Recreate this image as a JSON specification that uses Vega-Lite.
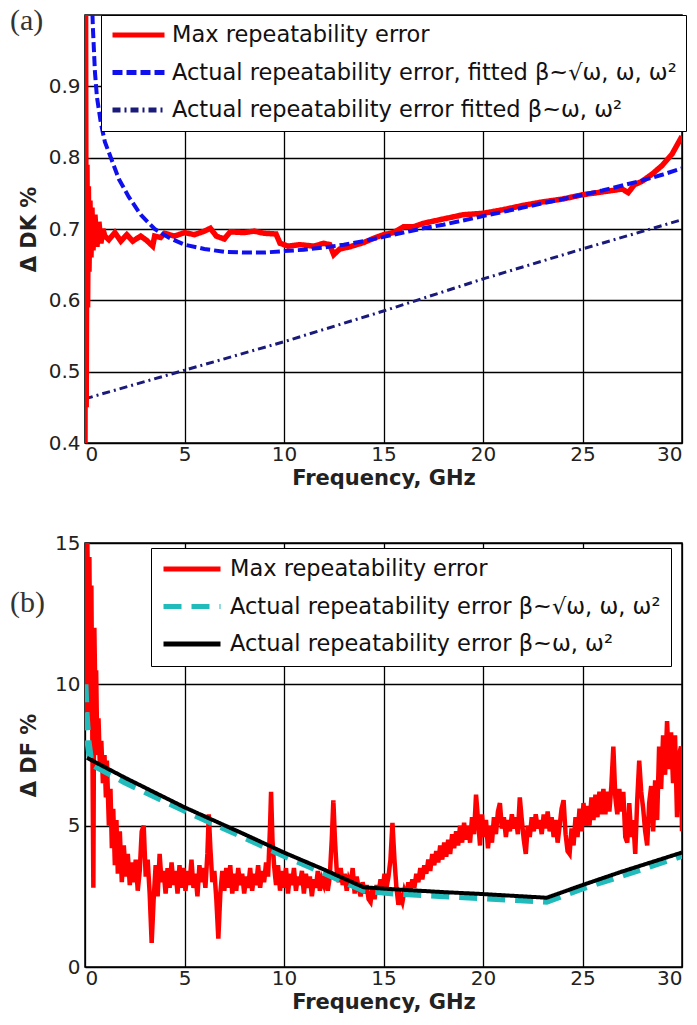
{
 "$schema": "https://vega.github.io/schema/vega-lite/v6.json",
 "background": "white",
 "padding": {"left": 9, "top": 5, "right": 5, "bottom": 5},
 "spacing": 43,
 "config": {
  "font": "DejaVu Sans",
  "view": {"stroke": "black", "strokeWidth": 1.5},
  "axis": {"grid": true, "gridColor": "black", "gridOpacity": 1, "gridWidth": 1.3, "domain": false, "ticks": false, "labelFont": "DejaVu Sans", "labelFontSize": 20, "labelColor": "#222", "titleFont": "DejaVu Sans", "titleFontSize": 21, "titleFontWeight": "bold", "titleColor": "#222"},
  "legend": {"orient": "none", "symbolType": "stroke", "symbolStrokeWidth": 5, "labelFont": "DejaVu Sans", "labelColor": "#111", "labelLimit": 0, "strokeColor": "black", "fillColor": "white", "clipHeight": 22}
 },
 "resolve": {"scale": {"color": "independent", "strokeDash": "independent"}, "legend": {"color": "independent", "strokeDash": "independent"}},
 "vconcat": [
  {
   "width": 597, "height": 428,
   "layer": [
    {
     "data": {"values": [
      {"s":"r","f":0,"v":0.40},{"s":"r","f":0.03,"v":1.0},{"s":"r","f":0.06,"v":0.45},{"s":"r","f":0.1,"v":0.79},{"s":"r","f":0.13,"v":0.59},{"s":"r","f":0.17,"v":0.76},{"s":"r","f":0.2,"v":0.64},{"s":"r","f":0.25,"v":0.74},{"s":"r","f":0.3,"v":0.66},{"s":"r","f":0.35,"v":0.73},{"s":"r","f":0.4,"v":0.67},{"s":"r","f":0.5,"v":0.72},{"s":"r","f":0.6,"v":0.675},{"s":"r","f":0.7,"v":0.71},{"s":"r","f":0.8,"v":0.68},{"s":"r","f":0.9,"v":0.70},{"s":"r","f":1.0,"v":0.69},{"s":"r","f":1.2,"v":0.685},{"s":"r","f":1.5,"v":0.695},{"s":"r","f":1.8,"v":0.683},{"s":"r","f":2.1,"v":0.692},{"s":"r","f":2.4,"v":0.683},{"s":"r","f":2.8,"v":0.69},{"s":"r","f":3.1,"v":0.684},{"s":"r","f":3.4,"v":0.676},{"s":"r","f":3.5,"v":0.69},{"s":"r","f":3.8,"v":0.688},{"s":"r","f":4.0,"v":0.694},{"s":"r","f":4.5,"v":0.69},{"s":"r","f":5.0,"v":0.695},{"s":"r","f":5.5,"v":0.692},{"s":"r","f":6.0,"v":0.697},{"s":"r","f":6.3,"v":0.701},{"s":"r","f":6.6,"v":0.69},{"s":"r","f":7.0,"v":0.686},{"s":"r","f":7.3,"v":0.696},{"s":"r","f":8.0,"v":0.695},{"s":"r","f":8.5,"v":0.697},{"s":"r","f":9.0,"v":0.694},{"s":"r","f":9.6,"v":0.693},{"s":"r","f":9.8,"v":0.68},{"s":"r","f":10.2,"v":0.676},{"s":"r","f":10.8,"v":0.678},{"s":"r","f":11.5,"v":0.676},{"s":"r","f":12.0,"v":0.68},{"s":"r","f":12.3,"v":0.678},{"s":"r","f":12.5,"v":0.664},{"s":"r","f":12.8,"v":0.672},{"s":"r","f":13.3,"v":0.675},{"s":"r","f":14.0,"v":0.681},{"s":"r","f":14.6,"v":0.688},{"s":"r","f":15.0,"v":0.692},{"s":"r","f":15.5,"v":0.695},{"s":"r","f":16.0,"v":0.703},{"s":"r","f":16.5,"v":0.703},{"s":"r","f":17.0,"v":0.708},{"s":"r","f":18.0,"v":0.714},{"s":"r","f":19.0,"v":0.72},{"s":"r","f":20.0,"v":0.722},{"s":"r","f":21.0,"v":0.727},{"s":"r","f":22.0,"v":0.733},{"s":"r","f":23.0,"v":0.738},{"s":"r","f":24.0,"v":0.742},{"s":"r","f":25.0,"v":0.748},{"s":"r","f":26.0,"v":0.752},{"s":"r","f":27.0,"v":0.756},{"s":"r","f":27.3,"v":0.751},{"s":"r","f":27.6,"v":0.762},{"s":"r","f":28.0,"v":0.767},{"s":"r","f":28.5,"v":0.777},{"s":"r","f":29.0,"v":0.789},{"s":"r","f":29.5,"v":0.805},{"s":"r","f":29.8,"v":0.82},{"s":"r","f":30.0,"v":0.83},
      {"s":"b","f":0.3,"v":1.06},{"s":"b","f":0.4,"v":0.98},{"s":"b","f":0.5,"v":0.92},{"s":"b","f":0.6,"v":0.885},{"s":"b","f":0.8,"v":0.848},{"s":"b","f":1.0,"v":0.822},{"s":"b","f":1.3,"v":0.80},{"s":"b","f":1.7,"v":0.77},{"s":"b","f":2.2,"v":0.745},{"s":"b","f":2.8,"v":0.72},{"s":"b","f":3.5,"v":0.70},{"s":"b","f":4.2,"v":0.688},{"s":"b","f":5.0,"v":0.678},{"s":"b","f":6.0,"v":0.672},{"s":"b","f":7.0,"v":0.668},{"s":"b","f":8.0,"v":0.667},{"s":"b","f":9.0,"v":0.667},{"s":"b","f":10.0,"v":0.669},{"s":"b","f":11.0,"v":0.671},{"s":"b","f":12.0,"v":0.674},{"s":"b","f":13.0,"v":0.678},{"s":"b","f":14.0,"v":0.683},{"s":"b","f":15.0,"v":0.689},{"s":"b","f":16.0,"v":0.695},{"s":"b","f":17.0,"v":0.701},{"s":"b","f":18.0,"v":0.706},{"s":"b","f":19.0,"v":0.712},{"s":"b","f":20.0,"v":0.718},{"s":"b","f":21.0,"v":0.724},{"s":"b","f":22.0,"v":0.730},{"s":"b","f":23.0,"v":0.736},{"s":"b","f":24.0,"v":0.742},{"s":"b","f":25.0,"v":0.748},{"s":"b","f":26.0,"v":0.754},{"s":"b","f":27.0,"v":0.761},{"s":"b","f":28.0,"v":0.768},{"s":"b","f":29.0,"v":0.776},{"s":"b","f":30.0,"v":0.785},
      {"s":"d","f":0,"v":0.462},{"s":"d","f":5,"v":0.502},{"s":"d","f":10,"v":0.542},{"s":"d","f":15,"v":0.585},{"s":"d","f":20,"v":0.630},{"s":"d","f":25,"v":0.672},{"s":"d","f":30,"v":0.713}
     ]},
     "encoding": {
      "x": {"field": "f", "type": "quantitative", "scale": {"domain": [0, 30], "nice": false}, "axis": {"values": [0, 5, 10, 15, 20, 25, 30], "title": "Frequency, GHz", "labelPadding": 1, "titlePadding": 3}},
      "y": {"field": "v", "type": "quantitative", "scale": {"domain": [0.4, 1.0], "nice": false, "zero": false}, "axis": {"values": [0.4, 0.5, 0.6, 0.7, 0.8, 0.9], "format": ".1f", "title": "Δ DK %", "labelPadding": 5, "titlePadding": 8, "minExtent": 38, "maxExtent": 38}},
      "color": {"field": "s", "type": "nominal", "scale": {"domain": ["r", "b", "d"], "range": ["#ff0000", "#1010ee", "#1a1a7a"]}, "legend": {"title": null, "legendX": 16, "legendY": 0, "padding": 9, "rowPadding": 14.5, "symbolSize": 2704, "labelOffset": 5, "labelFontSize": 22.5, "labelExpr": "datum.label == 'r' ? 'Max repeatability error' : datum.label == 'b' ? 'Actual repeatability error, fitted β~√ω, ω, ω²' : 'Actual repeatability error  fitted β~ω, ω²'"}},
      "strokeDash": {"field": "s", "type": "nominal", "scale": {"domain": ["r", "b", "d"], "range": [[1, 0], [10, 4], [8, 4, 2, 4]]}, "legend": {"title": null, "legendX": 16, "legendY": 0, "padding": 9, "rowPadding": 14.5, "symbolSize": 2704, "labelOffset": 5, "labelFontSize": 22.5, "labelExpr": "datum.label == 'r' ? 'Max repeatability error' : datum.label == 'b' ? 'Actual repeatability error, fitted β~√ω, ω, ω²' : 'Actual repeatability error  fitted β~ω, ω²'"}}
     },
     "layer": [
      {"transform": [{"filter": "datum.s == 'd'"}], "mark": {"type": "line", "strokeWidth": 3, "clip": true}},
      {"transform": [{"filter": "datum.s == 'r'"}], "mark": {"type": "line", "strokeWidth": 5.5, "clip": true}},
      {"transform": [{"filter": "datum.s == 'b'"}], "mark": {"type": "line", "strokeWidth": 4, "clip": true}}
     ]
    },
    {
     "data": {"values": [{"label": "(a)"}]},
     "mark": {"type": "text", "font": "Liberation Serif", "fontSize": 30, "align": "left", "baseline": "alphabetic", "color": "#333", "clip": false},
     "encoding": {"x": {"datum": -3.77, "type": "quantitative"}, "y": {"datum": 0.979, "type": "quantitative"}, "text": {"field": "label", "type": "nominal"}}
    }
   ]
  },
  {
   "width": 597, "height": 424,
   "layer": [
    {
     "data": {"values": [
      {"s":"r","f":0.0,"v":13.0},{"s":"r","f":0.02,"v":14.8},{"s":"r","f":0.08,"v":9.0},{"s":"r","f":0.12,"v":15.0},{"s":"r","f":0.18,"v":11.0},{"s":"r","f":0.22,"v":14.5},{"s":"r","f":0.28,"v":8.5},{"s":"r","f":0.32,"v":13.5},{"s":"r","f":0.38,"v":7.0},{"s":"r","f":0.42,"v":2.8},{"s":"r","f":0.47,"v":12.0},{"s":"r","f":0.52,"v":9.5},{"s":"r","f":0.56,"v":10.5},{"s":"r","f":0.62,"v":7.5},{"s":"r","f":0.68,"v":8.8},{"s":"r","f":0.75,"v":7.0},{"s":"r","f":0.82,"v":8.0},{"s":"r","f":0.9,"v":6.5},{"s":"r","f":0.98,"v":7.5},{"s":"r","f":1.05,"v":6.0},{"s":"r","f":1.1,"v":7.3},{"s":"r","f":1.2,"v":5.0},{"s":"r","f":1.28,"v":6.3},{"s":"r","f":1.35,"v":4.2},{"s":"r","f":1.42,"v":5.6},{"s":"r","f":1.5,"v":3.6},{"s":"r","f":1.58,"v":5.2},{"s":"r","f":1.65,"v":3.3},{"s":"r","f":1.75,"v":4.8},{"s":"r","f":1.85,"v":3.0},{"s":"r","f":1.95,"v":4.3},{"s":"r","f":2.05,"v":3.2},{"s":"r","f":2.15,"v":4.0},{"s":"r","f":2.25,"v":2.9},{"s":"r","f":2.35,"v":3.7},{"s":"r","f":2.45,"v":3.0},{"s":"r","f":2.55,"v":3.8},{"s":"r","f":2.65,"v":2.7},{"s":"r","f":2.75,"v":3.4},{"s":"r","f":2.85,"v":4.8},{"s":"r","f":2.95,"v":5.0},{"s":"r","f":3.05,"v":3.2},{"s":"r","f":3.15,"v":3.8},{"s":"r","f":3.25,"v":2.6},{"s":"r","f":3.35,"v":0.85},{"s":"r","f":3.45,"v":2.4},{"s":"r","f":3.55,"v":3.6},{"s":"r","f":3.65,"v":2.5},{"s":"r","f":3.75,"v":4.0},{"s":"r","f":3.85,"v":3.0},{"s":"r","f":3.95,"v":3.4},{"s":"r","f":4.05,"v":2.6},{"s":"r","f":4.15,"v":3.5},{"s":"r","f":4.25,"v":2.8},{"s":"r","f":4.35,"v":3.7},{"s":"r","f":4.45,"v":2.9},{"s":"r","f":4.55,"v":3.4},{"s":"r","f":4.65,"v":2.6},{"s":"r","f":4.75,"v":3.6},{"s":"r","f":4.85,"v":2.8},{"s":"r","f":4.95,"v":3.5},{"s":"r","f":5.05,"v":2.7},{"s":"r","f":5.15,"v":3.4},{"s":"r","f":5.25,"v":2.9},{"s":"r","f":5.35,"v":3.8},{"s":"r","f":5.45,"v":2.8},{"s":"r","f":5.55,"v":3.3},{"s":"r","f":5.65,"v":2.5},{"s":"r","f":5.75,"v":3.6},{"s":"r","f":5.85,"v":3.0},{"s":"r","f":5.95,"v":3.5},{"s":"r","f":6.05,"v":2.8},{"s":"r","f":6.15,"v":4.0},{"s":"r","f":6.22,"v":5.4},{"s":"r","f":6.3,"v":4.2},{"s":"r","f":6.4,"v":3.0},{"s":"r","f":6.5,"v":3.4},{"s":"r","f":6.6,"v":2.4},{"s":"r","f":6.7,"v":1.0},{"s":"r","f":6.8,"v":2.6},{"s":"r","f":6.9,"v":3.4},{"s":"r","f":7.0,"v":2.7},{"s":"r","f":7.1,"v":3.5},{"s":"r","f":7.2,"v":2.8},{"s":"r","f":7.3,"v":3.6},{"s":"r","f":7.4,"v":2.6},{"s":"r","f":7.5,"v":3.3},{"s":"r","f":7.6,"v":2.7},{"s":"r","f":7.7,"v":3.5},{"s":"r","f":7.8,"v":2.9},{"s":"r","f":7.9,"v":3.3},{"s":"r","f":8.0,"v":2.6},{"s":"r","f":8.1,"v":3.2},{"s":"r","f":8.2,"v":2.8},{"s":"r","f":8.3,"v":3.5},{"s":"r","f":8.4,"v":2.7},{"s":"r","f":8.5,"v":3.3},{"s":"r","f":8.6,"v":2.9},{"s":"r","f":8.7,"v":3.6},{"s":"r","f":8.8,"v":2.8},{"s":"r","f":8.9,"v":3.4},{"s":"r","f":9.0,"v":3.0},{"s":"r","f":9.1,"v":3.7},{"s":"r","f":9.2,"v":3.2},{"s":"r","f":9.3,"v":5.0},{"s":"r","f":9.35,"v":6.2},{"s":"r","f":9.42,"v":4.5},{"s":"r","f":9.5,"v":3.6},{"s":"r","f":9.6,"v":2.9},{"s":"r","f":9.7,"v":3.6},{"s":"r","f":9.8,"v":2.7},{"s":"r","f":9.9,"v":3.4},{"s":"r","f":10.0,"v":2.8},{"s":"r","f":10.1,"v":3.5},{"s":"r","f":10.2,"v":2.6},{"s":"r","f":10.3,"v":3.3},{"s":"r","f":10.4,"v":2.9},{"s":"r","f":10.5,"v":3.5},{"s":"r","f":10.6,"v":2.7},{"s":"r","f":10.7,"v":3.2},{"s":"r","f":10.8,"v":2.9},{"s":"r","f":10.9,"v":3.4},{"s":"r","f":11.0,"v":2.6},{"s":"r","f":11.1,"v":3.3},{"s":"r","f":11.2,"v":2.8},{"s":"r","f":11.3,"v":3.2},{"s":"r","f":11.4,"v":2.5},{"s":"r","f":11.5,"v":3.1},{"s":"r","f":11.6,"v":2.8},{"s":"r","f":11.7,"v":3.4},{"s":"r","f":11.8,"v":2.7},{"s":"r","f":11.9,"v":3.1},{"s":"r","f":12.0,"v":2.9},{"s":"r","f":12.1,"v":3.3},{"s":"r","f":12.2,"v":2.7},{"s":"r","f":12.3,"v":3.2},{"s":"r","f":12.4,"v":4.5},{"s":"r","f":12.48,"v":5.9},{"s":"r","f":12.56,"v":4.5},{"s":"r","f":12.65,"v":3.4},{"s":"r","f":12.75,"v":3.0},{"s":"r","f":12.85,"v":3.5},{"s":"r","f":12.95,"v":2.9},{"s":"r","f":13.05,"v":3.3},{"s":"r","f":13.15,"v":2.7},{"s":"r","f":13.25,"v":3.1},{"s":"r","f":13.35,"v":2.9},{"s":"r","f":13.45,"v":3.5},{"s":"r","f":13.55,"v":2.6},{"s":"r","f":13.65,"v":3.2},{"s":"r","f":13.75,"v":2.8},{"s":"r","f":13.85,"v":2.5},{"s":"r","f":13.95,"v":3.0},{"s":"r","f":14.05,"v":2.6},{"s":"r","f":14.15,"v":2.9},{"s":"r","f":14.25,"v":2.4},{"s":"r","f":14.35,"v":2.3},{"s":"r","f":14.45,"v":2.8},{"s":"r","f":14.55,"v":2.4},{"s":"r","f":14.65,"v":2.9},{"s":"r","f":14.75,"v":2.6},{"s":"r","f":14.85,"v":3.1},{"s":"r","f":14.95,"v":2.7},{"s":"r","f":15.05,"v":3.3},{"s":"r","f":15.15,"v":2.8},{"s":"r","f":15.25,"v":3.2},{"s":"r","f":15.35,"v":3.8},{"s":"r","f":15.45,"v":5.1},{"s":"r","f":15.55,"v":3.8},{"s":"r","f":15.65,"v":2.8},{"s":"r","f":15.75,"v":2.2},{"s":"r","f":15.85,"v":2.5},{"s":"r","f":15.95,"v":2.3},{"s":"r","f":16.05,"v":2.7},{"s":"r","f":16.15,"v":2.5},{"s":"r","f":16.25,"v":3.0},{"s":"r","f":16.35,"v":2.7},{"s":"r","f":16.45,"v":3.1},{"s":"r","f":16.55,"v":2.8},{"s":"r","f":16.65,"v":3.3},{"s":"r","f":16.75,"v":3.0},{"s":"r","f":16.85,"v":3.5},{"s":"r","f":16.95,"v":3.1},{"s":"r","f":17.05,"v":3.6},{"s":"r","f":17.15,"v":3.3},{"s":"r","f":17.25,"v":3.8},{"s":"r","f":17.35,"v":3.4},{"s":"r","f":17.45,"v":4.0},{"s":"r","f":17.55,"v":3.6},{"s":"r","f":17.65,"v":4.1},{"s":"r","f":17.75,"v":3.7},{"s":"r","f":17.85,"v":4.3},{"s":"r","f":17.95,"v":3.8},{"s":"r","f":18.05,"v":4.4},{"s":"r","f":18.15,"v":3.9},{"s":"r","f":18.25,"v":4.5},{"s":"r","f":18.35,"v":4.0},{"s":"r","f":18.45,"v":4.7},{"s":"r","f":18.55,"v":4.2},{"s":"r","f":18.65,"v":4.8},{"s":"r","f":18.75,"v":4.3},{"s":"r","f":18.85,"v":5.0},{"s":"r","f":18.95,"v":4.4},{"s":"r","f":19.05,"v":5.1},{"s":"r","f":19.15,"v":4.5},{"s":"r","f":19.25,"v":5.0},{"s":"r","f":19.35,"v":4.4},{"s":"r","f":19.45,"v":5.3},{"s":"r","f":19.55,"v":4.7},{"s":"r","f":19.65,"v":6.1},{"s":"r","f":19.75,"v":5.2},{"s":"r","f":19.85,"v":4.3},{"s":"r","f":19.95,"v":5.4},{"s":"r","f":20.05,"v":4.6},{"s":"r","f":20.15,"v":5.2},{"s":"r","f":20.25,"v":4.2},{"s":"r","f":20.35,"v":5.0},{"s":"r","f":20.45,"v":4.4},{"s":"r","f":20.55,"v":5.3},{"s":"r","f":20.65,"v":4.7},{"s":"r","f":20.75,"v":5.5},{"s":"r","f":20.85,"v":5.8},{"s":"r","f":20.95,"v":4.9},{"s":"r","f":21.05,"v":5.3},{"s":"r","f":21.15,"v":4.6},{"s":"r","f":21.25,"v":5.2},{"s":"r","f":21.35,"v":4.8},{"s":"r","f":21.45,"v":5.4},{"s":"r","f":21.55,"v":4.9},{"s":"r","f":21.65,"v":5.3},{"s":"r","f":21.75,"v":4.7},{"s":"r","f":21.85,"v":6.0},{"s":"r","f":21.95,"v":5.2},{"s":"r","f":22.05,"v":4.5},{"s":"r","f":22.15,"v":4.0},{"s":"r","f":22.25,"v":5.0},{"s":"r","f":22.35,"v":4.6},{"s":"r","f":22.45,"v":5.3},{"s":"r","f":22.55,"v":4.8},{"s":"r","f":22.65,"v":5.4},{"s":"r","f":22.75,"v":4.9},{"s":"r","f":22.85,"v":5.2},{"s":"r","f":22.95,"v":4.7},{"s":"r","f":23.05,"v":5.4},{"s":"r","f":23.15,"v":4.9},{"s":"r","f":23.25,"v":5.5},{"s":"r","f":23.35,"v":4.8},{"s":"r","f":23.45,"v":5.3},{"s":"r","f":23.55,"v":4.6},{"s":"r","f":23.65,"v":5.2},{"s":"r","f":23.75,"v":4.4},{"s":"r","f":23.85,"v":5.0},{"s":"r","f":23.95,"v":5.6},{"s":"r","f":24.05,"v":5.9},{"s":"r","f":24.15,"v":4.7},{"s":"r","f":24.25,"v":4.1},{"s":"r","f":24.35,"v":4.0},{"s":"r","f":24.45,"v":4.9},{"s":"r","f":24.55,"v":4.3},{"s":"r","f":24.65,"v":5.3},{"s":"r","f":24.75,"v":4.6},{"s":"r","f":24.85,"v":5.6},{"s":"r","f":24.95,"v":4.8},{"s":"r","f":25.05,"v":5.8},{"s":"r","f":25.15,"v":5.0},{"s":"r","f":25.25,"v":5.7},{"s":"r","f":25.35,"v":5.0},{"s":"r","f":25.45,"v":6.0},{"s":"r","f":25.55,"v":5.2},{"s":"r","f":25.65,"v":6.1},{"s":"r","f":25.75,"v":5.3},{"s":"r","f":25.85,"v":6.2},{"s":"r","f":25.95,"v":5.4},{"s":"r","f":26.05,"v":6.3},{"s":"r","f":26.15,"v":5.4},{"s":"r","f":26.25,"v":6.2},{"s":"r","f":26.35,"v":5.5},{"s":"r","f":26.45,"v":6.4},{"s":"r","f":26.55,"v":7.8},{"s":"r","f":26.65,"v":6.0},{"s":"r","f":26.75,"v":5.4},{"s":"r","f":26.85,"v":6.3},{"s":"r","f":26.95,"v":5.5},{"s":"r","f":27.05,"v":6.2},{"s":"r","f":27.15,"v":4.6},{"s":"r","f":27.25,"v":4.4},{"s":"r","f":27.35,"v":5.8},{"s":"r","f":27.45,"v":4.6},{"s":"r","f":27.55,"v":5.2},{"s":"r","f":27.65,"v":4.0},{"s":"r","f":27.75,"v":5.9},{"s":"r","f":27.85,"v":7.3},{"s":"r","f":27.95,"v":6.2},{"s":"r","f":28.05,"v":5.6},{"s":"r","f":28.15,"v":4.8},{"s":"r","f":28.25,"v":4.3},{"s":"r","f":28.35,"v":5.8},{"s":"r","f":28.45,"v":6.4},{"s":"r","f":28.55,"v":4.8},{"s":"r","f":28.65,"v":6.6},{"s":"r","f":28.75,"v":5.2},{"s":"r","f":28.85,"v":7.8},{"s":"r","f":28.95,"v":6.3},{"s":"r","f":29.05,"v":8.2},{"s":"r","f":29.15,"v":6.8},{"s":"r","f":29.25,"v":8.7},{"s":"r","f":29.35,"v":7.0},{"s":"r","f":29.45,"v":8.3},{"s":"r","f":29.55,"v":6.5},{"s":"r","f":29.65,"v":8.2},{"s":"r","f":29.75,"v":5.3},{"s":"r","f":29.85,"v":7.5},{"s":"r","f":29.95,"v":7.8},{"s":"r","f":30.0,"v":4.8},
      {"s":"c","f":0.0,"v":10.0},{"s":"c","f":0.05,"v":9.0},{"s":"c","f":0.15,"v":8.0},{"s":"c","f":0.3,"v":7.2},{"s":"c","f":2,"v":6.55},{"s":"c","f":5,"v":5.55},{"s":"c","f":8,"v":4.6},{"s":"c","f":10,"v":3.95},{"s":"c","f":12,"v":3.35},{"s":"c","f":14,"v":2.72},{"s":"c","f":15.5,"v":2.62},{"s":"c","f":18,"v":2.52},{"s":"c","f":20,"v":2.45},{"s":"c","f":23.2,"v":2.33},{"s":"c","f":25,"v":2.8},{"s":"c","f":27,"v":3.25},{"s":"c","f":30,"v":3.95},
      {"s":"k","f":0.1,"v":7.4},{"s":"k","f":2,"v":6.7},{"s":"k","f":5,"v":5.65},{"s":"k","f":8,"v":4.7},{"s":"k","f":10,"v":4.05},{"s":"k","f":12,"v":3.45},{"s":"k","f":14,"v":2.82},{"s":"k","f":15.5,"v":2.75},{"s":"k","f":18,"v":2.65},{"s":"k","f":20,"v":2.58},{"s":"k","f":23.2,"v":2.45},{"s":"k","f":25,"v":2.9},{"s":"k","f":27,"v":3.38},{"s":"k","f":30,"v":4.05}
     ]},
     "encoding": {
      "x": {"field": "f", "type": "quantitative", "scale": {"domain": [0, 30], "nice": false}, "axis": {"values": [0, 5, 10, 15, 20, 25, 30], "title": "Frequency, GHz", "labelPadding": 1, "titlePadding": 3}},
      "y": {"field": "v", "type": "quantitative", "scale": {"domain": [0, 15], "nice": false}, "axis": {"values": [0, 5, 10, 15], "title": "Δ DF %", "labelPadding": 5, "titlePadding": 8, "minExtent": 38, "maxExtent": 38}},
      "color": {"field": "s", "type": "nominal", "scale": {"domain": ["r", "c", "k"], "range": ["#ff0000", "#22bbbb", "#000000"]}, "legend": {"title": null, "legendX": 66, "legendY": 5, "padding": 10, "rowPadding": 14.5, "symbolSize": 3249, "labelOffset": 7, "labelFontSize": 22.5, "labelExpr": "datum.label == 'r' ? 'Max repeatability error' : datum.label == 'c' ? 'Actual repeatability error β~√ω, ω, ω²' : 'Actual repeatability error β~ω, ω²'"}},
      "strokeDash": {"field": "s", "type": "nominal", "scale": {"domain": ["r", "c", "k"], "range": [[1, 0], [18, 10], [1, 0]]}, "legend": {"title": null, "legendX": 66, "legendY": 5, "padding": 10, "rowPadding": 14.5, "symbolSize": 3249, "labelOffset": 7, "labelFontSize": 22.5, "labelExpr": "datum.label == 'r' ? 'Max repeatability error' : datum.label == 'c' ? 'Actual repeatability error β~√ω, ω, ω²' : 'Actual repeatability error β~ω, ω²'"}}
     },
     "layer": [
      {"transform": [{"filter": "datum.s == 'r'"}], "mark": {"type": "line", "strokeWidth": 4.5, "clip": true}},
      {"transform": [{"filter": "datum.s == 'c'"}], "mark": {"type": "line", "strokeWidth": 7, "clip": true}},
      {"transform": [{"filter": "datum.s == 'k'"}], "mark": {"type": "line", "strokeWidth": 4, "clip": true}}
     ]
    },
    {
     "data": {"values": [{"label": "(b)"}]},
     "mark": {"type": "text", "font": "Liberation Serif", "fontSize": 30, "align": "left", "baseline": "alphabetic", "color": "#333", "clip": false},
     "encoding": {"x": {"datum": -3.77, "type": "quantitative"}, "y": {"datum": 12.56, "type": "quantitative"}, "text": {"field": "label", "type": "nominal"}}
    }
   ]
  }
 ]
}
